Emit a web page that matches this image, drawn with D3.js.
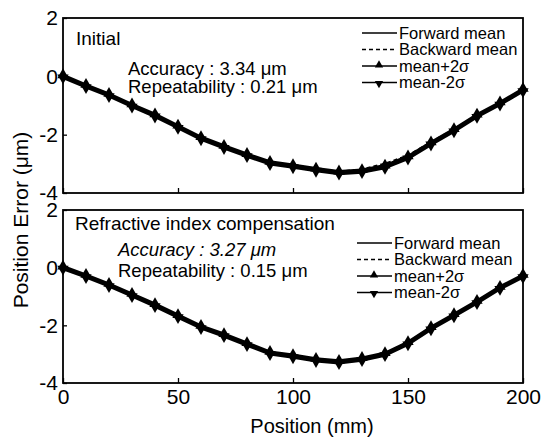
<!DOCTYPE html>
<html>
<head>
<meta charset="utf-8">
<script src="https://cdn.jsdelivr.net/npm/d3@7"></script>
<style>
  body { margin: 0; background: #fff; }
  svg { font-family: "Liberation Sans", Arial, sans-serif; }
</style>
</head>
<body>
<div id="chart"></div>
<script>
// positions (mm)
var positions = [0, 10, 20, 30, 40, 50, 60, 70, 80, 90, 100, 110, 120, 130, 140, 150, 160, 170, 180, 190, 200];

// top panel: Initial
var initFwd  = [0, -0.33, -0.64, -1.00, -1.34, -1.73, -2.12, -2.42, -2.70, -2.97, -3.08, -3.20, -3.30, -3.25, -3.10, -2.78, -2.30, -1.85, -1.35, -0.93, -0.47];
var initBwd  = [0, -0.31, -0.62, -0.98, -1.33, -1.71, -2.10, -2.40, -2.68, -2.95, -3.05, -3.18, -3.27, -3.20, -3.00, -2.72, -2.26, -1.82, -1.33, -0.92, -0.46];
var initPlus = [0.05, -0.28, -0.59, -0.95, -1.29, -1.68, -2.07, -2.37, -2.65, -2.92, -3.03, -3.15, -3.25, -3.20, -3.05, -2.73, -2.25, -1.80, -1.30, -0.88, -0.42];
var initMinus = [-0.05, -0.38, -0.69, -1.05, -1.39, -1.78, -2.17, -2.47, -2.75, -3.02, -3.13, -3.25, -3.35, -3.30, -3.15, -2.83, -2.35, -1.90, -1.40, -0.98, -0.52];

// bottom panel: Refractive index compensation
var compFwd  = [0, -0.29, -0.60, -0.95, -1.30, -1.68, -2.06, -2.34, -2.65, -2.96, -3.07, -3.20, -3.27, -3.17, -3.00, -2.62, -2.10, -1.65, -1.19, -0.70, -0.29];
var compBwd  = [0, -0.28, -0.59, -0.94, -1.29, -1.67, -2.05, -2.33, -2.64, -2.94, -3.05, -3.18, -3.25, -3.15, -2.98, -2.60, -2.09, -1.64, -1.18, -0.69, -0.28];
var compPlus = [0.05, -0.24, -0.55, -0.90, -1.25, -1.63, -2.01, -2.29, -2.60, -2.91, -3.02, -3.15, -3.22, -3.12, -2.95, -2.57, -2.05, -1.60, -1.14, -0.65, -0.24];
var compMinus = [-0.05, -0.34, -0.65, -1.00, -1.35, -1.73, -2.11, -2.39, -2.70, -3.01, -3.12, -3.25, -3.32, -3.22, -3.05, -2.67, -2.15, -1.70, -1.24, -0.75, -0.34];

var xTicks = [0, 50, 100, 150, 200];
var yTicks = [2, 0, -2, -4];
var legendLabels = ['Forward mean', 'Backward mean', 'mean+2\u03c3', 'mean-2\u03c3'];

var W = 544, H = 438;
var svg = d3.select('#chart').append('svg')
  .attr('width', W).attr('height', H);

var xScale = d3.scaleLinear().domain([0, 200]).range([63, 523]);

// plain hyphen minus like the original
var fmt = function (d) { return String(d); };

var panels = [
  {
    top: 18, bottom: 193, showX: false,
    fwd: initFwd, bwd: initBwd, plus: initPlus, minus: initMinus,
    title: 'Initial', titleX: 76, titleY: 45,
    acc: 'Accuracy : 3.34 \u03bcm', accItalic: false, accX: 128, accY: 75,
    rep: 'Repeatability : 0.21 \u03bcm', repY: 93,
    legX: 362, legY: 33
  },
  {
    top: 210, bottom: 383, showX: true,
    fwd: compFwd, bwd: compBwd, plus: compPlus, minus: compMinus,
    title: 'Refractive index compensation', titleX: 75, titleY: 230,
    acc: 'Accuracy : 3.27 \u03bcm', accItalic: true, accX: 118, accY: 256,
    rep: 'Repeatability : 0.15 \u03bcm', repY: 277,
    legX: 357, legY: 243
  }
];

var triSize = 55;
var upTri = d3.symbol().type(d3.symbolTriangle).size(triSize);

panels.forEach(function (p) {
  var yScale = d3.scaleLinear().domain([-4, 2]).range([p.bottom, p.top]);
  var g = svg.append('g');

  var line = function (vals) {
    return d3.line()
      .x(function (d, i) { return xScale(positions[i]); })
      .y(function (d) { return yScale(d); })(vals);
  };

  // frame
  g.append('rect')
    .attr('x', xScale(0)).attr('y', p.top)
    .attr('width', xScale(200) - xScale(0))
    .attr('height', p.bottom - p.top)
    .attr('fill', 'none').attr('stroke', '#000').attr('stroke-width', 1.8);

  // x axis (ticks inward)
  var ax = g.append('g')
    .attr('transform', 'translate(0,' + p.bottom + ')')
    .call(d3.axisBottom(xScale).tickValues(xTicks).tickFormat(fmt)
      .tickSizeInner(-5).tickSizeOuter(0).tickPadding(6));
  ax.select('.domain').remove();
  ax.selectAll('line').attr('stroke-width', 1.3);
  ax.selectAll('text')
    .attr('font-size', 21).attr('font-family', '"Liberation Sans", Arial, sans-serif')
    .attr('fill', '#000')
    .style('display', p.showX ? null : 'none');

  // y axis
  var ay = g.append('g')
    .attr('transform', 'translate(' + xScale(0) + ',0)')
    .call(d3.axisLeft(yScale).tickValues(yTicks).tickFormat(fmt)
      .tickSizeInner(-4).tickSizeOuter(0).tickPadding(5));
  ay.select('.domain').remove();
  ay.selectAll('line').attr('stroke-width', 1.3);
  ay.selectAll('text')
    .attr('font-size', 21).attr('font-family', '"Liberation Sans", Arial, sans-serif')
    .attr('fill', '#000');

  // series lines
  [p.plus, p.minus, p.fwd].forEach(function (vals) {
    g.append('path').attr('d', line(vals))
      .attr('fill', 'none').attr('stroke', '#000').attr('stroke-width', 2.4);
  });
  g.append('path').attr('d', line(p.bwd))
    .attr('fill', 'none').attr('stroke', '#000').attr('stroke-width', 2.4)
    .attr('stroke-dasharray', '4,3');

  // markers
  g.append('g').selectAll('path')
    .data(p.plus).enter().append('path')
    .attr('d', upTri)
    .attr('transform', function (d, i) {
      return 'translate(' + xScale(positions[i]) + ',' + yScale(d) + ')';
    });
  g.append('g').selectAll('path')
    .data(p.minus).enter().append('path')
    .attr('d', upTri)
    .attr('transform', function (d, i) {
      return 'translate(' + xScale(positions[i]) + ',' + yScale(d) + ') rotate(180)';
    });

  // annotations
  g.append('text').attr('x', p.titleX).attr('y', p.titleY)
    .attr('font-size', 19).text(p.title);
  g.append('text').attr('x', p.accX).attr('y', p.accY)
    .attr('font-size', 18.5)
    .attr('font-style', p.accItalic ? 'italic' : 'normal')
    .text(p.acc);
  g.append('text').attr('x', p.accX).attr('y', p.repY)
    .attr('font-size', 18.5).text(p.rep);

  // legend
  var leg = g.append('g');
  legendLabels.forEach(function (lab, i) {
    var ly = p.legY + i * 16.5;
    leg.append('line')
      .attr('x1', p.legX).attr('x2', p.legX + 35)
      .attr('y1', ly).attr('y2', ly)
      .attr('stroke', '#000').attr('stroke-width', 1.4)
      .attr('stroke-dasharray', i === 1 ? '4,3' : null);
    if (i === 2) {
      leg.append('path').attr('d', d3.symbol().type(d3.symbolTriangle).size(30))
        .attr('transform', 'translate(' + (p.legX + 17) + ',' + (ly - 1) + ')');
    }
    if (i === 3) {
      leg.append('path').attr('d', d3.symbol().type(d3.symbolTriangle).size(30))
        .attr('transform', 'translate(' + (p.legX + 17) + ',' + (ly + 1) + ') rotate(180)');
    }
    leg.append('text')
      .attr('x', p.legX + 37).attr('y', ly)
      .attr('dy', '0.35em')
      .attr('font-size', 16.5)
      .text(lab);
  });
});

// axis titles
svg.append('text')
  .attr('x', 312).attr('y', 433)
  .attr('text-anchor', 'middle')
  .attr('font-size', 20)
  .text('Position (mm)');

svg.append('text')
  .attr('transform', 'translate(28,220) rotate(-90)')
  .attr('text-anchor', 'middle')
  .attr('font-size', 21)
  .text('Position Error (\u03bcm)');
</script>
</body>
</html>
